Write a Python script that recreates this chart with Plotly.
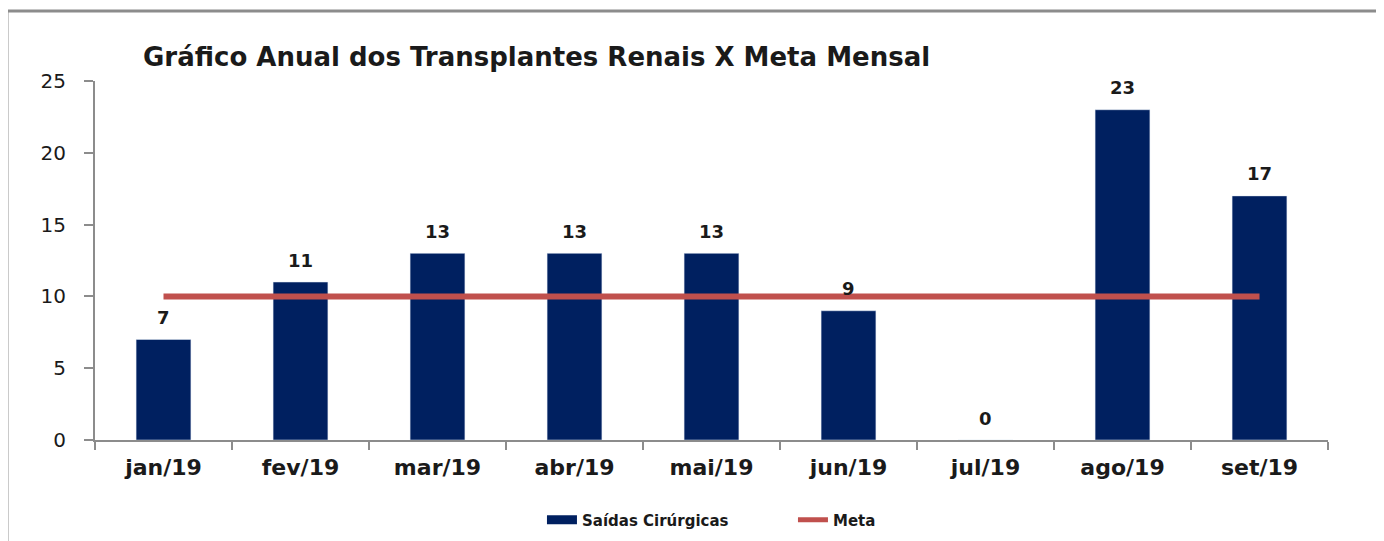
import plotly.graph_objects as go

categories = ["jan/19", "fev/19", "mar/19", "abr/19", "mai/19", "jun/19", "jul/19", "ago/19", "set/19"]
saidas = [7, 11, 13, 13, 13, 9, 0, 23, 17]
meta = [10, 10, 10, 10, 10, 10, 10, 10, 10]

FONT = "DejaVu Sans"
NAVY = "#002060"
RED = "#C0504D"

# page body has an 8px margin: size the figure to fit the 1384x541 window
W, H = 1376, 533

fig = go.Figure()
fig.add_trace(go.Bar(x=categories, y=saidas, marker_color=NAVY, width=0.4,
                     showlegend=False, name="Saídas Cirúrgicas"))
fig.add_trace(go.Scatter(x=categories, y=meta, mode="lines", line=dict(color=RED, width=6),
                         showlegend=False, name="Meta"))
# legend proxies
fig.add_trace(go.Scatter(x=[None], y=[None], mode="lines", line=dict(color=NAVY, width=9),
                         name="<b>Saídas Cirúrgicas</b>"))
fig.add_trace(go.Scatter(x=[None], y=[None], mode="lines", line=dict(color=RED, width=5),
                         name="<b>Meta</b>"))

for c, v in zip(categories, saidas):
    fig.add_annotation(x=c, y=v, text=f"<b>{v}</b>", showarrow=False, yshift=22,
                       font=dict(family=FONT, size=18, color="#1a1a1a"))

fig.add_shape(type="rect", xref="paper", yref="paper", x0=-0.0714, x1=1.043, y0=-0.42, y1=1.195,
              line=dict(color="#8c8c8c", width=3), layer="below")

fig.update_layout(
    width=W, height=H,
    margin=dict(l=87, r=56, t=73, b=101, autoexpand=False),
    paper_bgcolor="white", plot_bgcolor="white",
    title=dict(text="<b>Gráfico Anual dos Transplantes Renais X Meta Mensal</b>",
               x=135/W, xanchor="left", xref="container",
               y=1-49/H, yanchor="middle", yref="container",
               font=dict(family=FONT, size=26, color="#1a1a1a")),
    xaxis=dict(range=[-0.5, 8.5], showline=True, linecolor="#8c8c8c", linewidth=2,
               ticks="outside", tickson="boundaries", ticklen=8, tickcolor="#8c8c8c", tickwidth=2,
               tickfont=dict(family=FONT, size=22, color="#1a1a1a"), showgrid=False,
               tickprefix="<b>", ticksuffix="</b>", automargin=False, ticklabelstandoff=7),
    yaxis=dict(range=[0, 25], dtick=5, showline=True, linecolor="#8c8c8c", linewidth=2,
               ticks="outside", ticklen=9, tickcolor="#8c8c8c", tickwidth=2, showgrid=False,
               zeroline=False, tickfont=dict(family=FONT, size=20, color="#1a1a1a"),
               automargin=False, ticklabelstandoff=14),
    legend=dict(orientation="h", x=0.3625, xanchor="left", y=-0.223, yanchor="middle",
                font=dict(family=FONT, size=15, color="#1a1a1a"), entrywidth=206),
)

fig.write_html("out.html")
